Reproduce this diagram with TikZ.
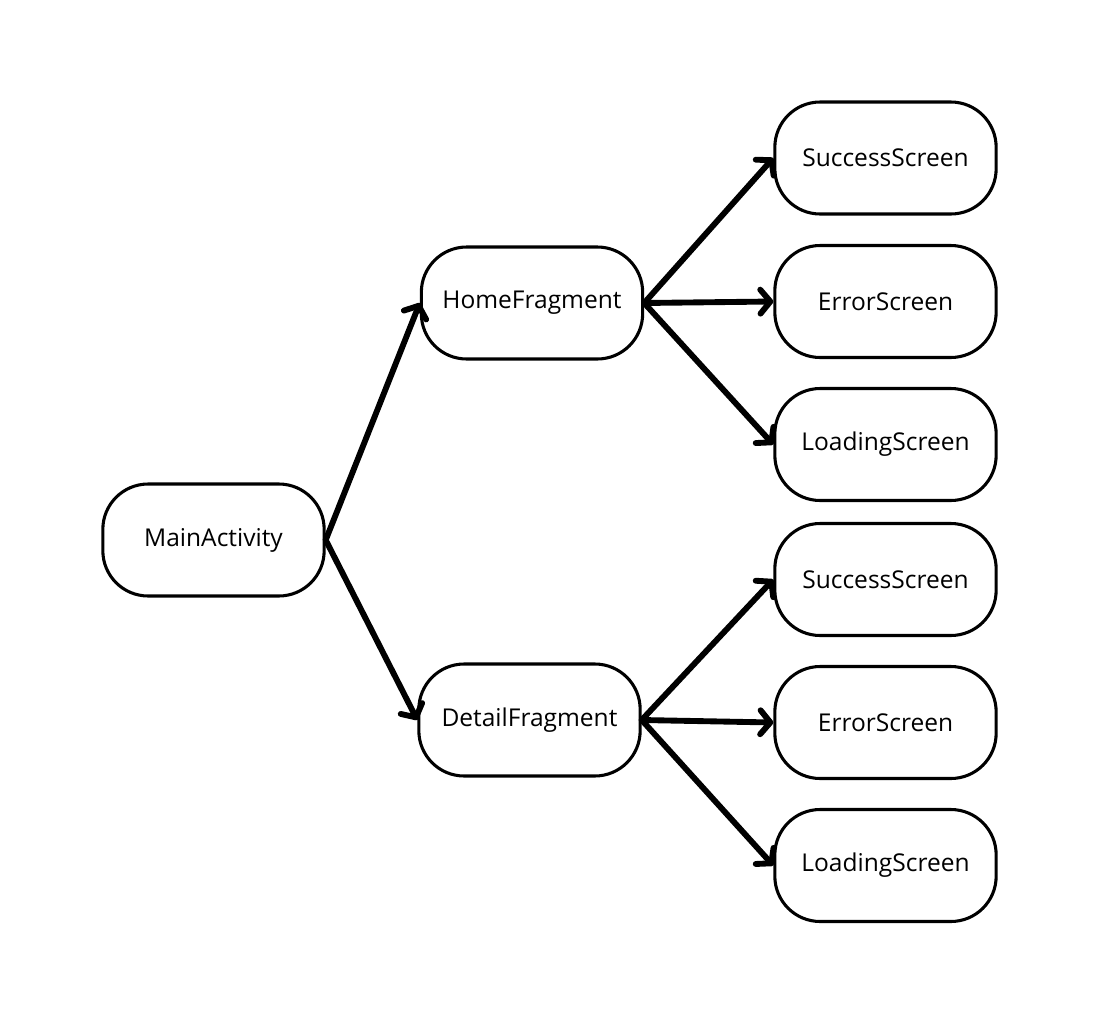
\documentclass[tikz,border=0pt]{standalone}
\usepackage{fontspec}
\setmainfont{Open Sans}
\usetikzlibrary{arrows.meta}
\begin{document}
\begin{tikzpicture}[x=0.75pt,y=-0.75pt,
  box/.style={draw=black,line width=2.3pt,rounded corners=34pt,minimum width=166pt,minimum height=84pt,inner sep=0pt,font=\fontsize{18.4}{21}\selectfont,fill=white},
  conn/.style={line width=4.4pt,line cap=round,-{Straight Barb[round,length=7.5pt,width=18pt]}}]
\useasboundingbox (0,0) rectangle (1100,1025);
\node[box] (main) at (213.5,540) {MainActivity};
\node[box] (home) at (532,303) {HomeFragment};
\node[box] (detail) at (529.5,720) {DetailFragment};
\node[box] (s1) at (885.5,158) {SuccessScreen};
\node[box] (e1) at (885.5,301.5) {ErrorScreen};
\node[box] (l1) at (885.5,444.5) {LoadingScreen};
\node[box] (s2) at (885.5,579.5) {SuccessScreen};
\node[box] (e2) at (885.5,722.5) {ErrorScreen};
\node[box] (l2) at (885.5,865.5) {LoadingScreen};
\draw[conn] (main.east) -- (home.west);
\draw[conn] (main.east) -- (detail.west);
\draw[conn] (home.east) -- (s1.west);
\draw[conn] (home.east) -- (e1.west);
\draw[conn] (home.east) -- (l1.west);
\draw[conn] (detail.east) -- (s2.west);
\draw[conn] (detail.east) -- (e2.west);
\draw[conn] (detail.east) -- (l2.west);
\end{tikzpicture}
\end{document}
